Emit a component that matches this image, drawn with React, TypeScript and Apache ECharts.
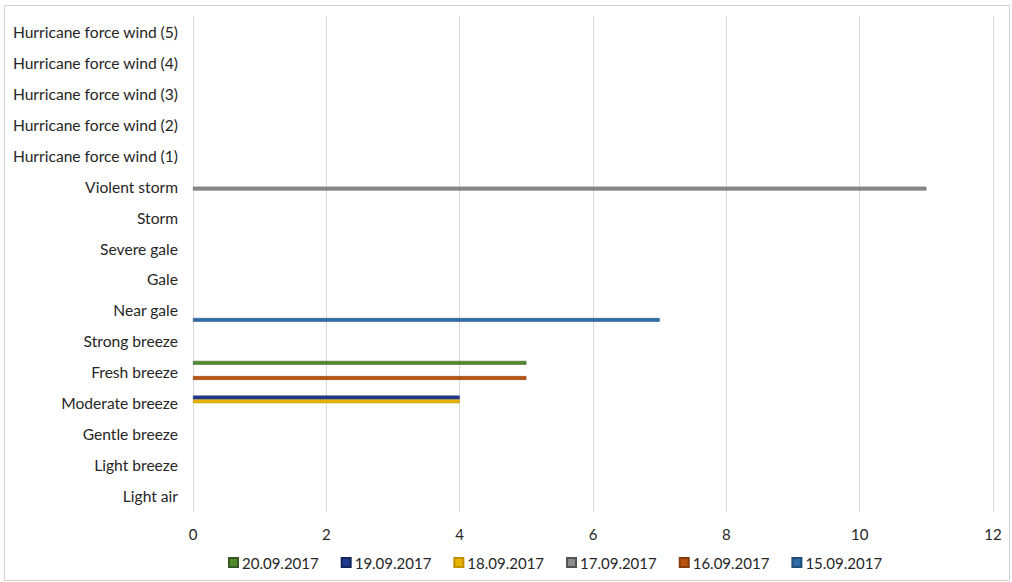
import React, { useEffect, useRef } from "react";
import * as echarts from "echarts";

const categories = [
  "Light air",
  "Light breeze",
  "Gentle breeze",
  "Moderate breeze",
  "Fresh breeze",
  "Strong breeze",
  "Near gale",
  "Gale",
  "Severe gale",
  "Storm",
  "Violent storm",
  "Hurricane force wind (1)",
  "Hurricane force wind (2)",
  "Hurricane force wind (3)",
  "Hurricane force wind (4)",
  "Hurricane force wind (5)",
];

const seriesNames = ["20.09.2017", "19.09.2017", "18.09.2017", "17.09.2017", "16.09.2017", "15.09.2017"];
const seriesColors = ["#4f8a2b", "#1f3a8f", "#e8b400", "#8c8c8c", "#b8540f", "#2e6aa6"];
const seriesBorders = ["#375623", "#14245c", "#bf9000", "#525252", "#843c0c", "#1f4e79"];

const s20 = [null, null, null, null, 5, null, null, null, null, null, null, null, null, null, null, null];
const s19 = [null, null, null, 4, null, null, null, null, null, null, null, null, null, null, null, null];
const s18 = [null, null, null, 4, null, null, null, null, null, null, null, null, null, null, null, null];
const s17 = [null, null, null, null, null, null, null, null, null, null, 11, null, null, null, null, null];
const s16 = [null, null, null, null, 5, null, null, null, null, null, null, null, null, null, null, null];
const s15 = [null, null, null, null, null, null, 7, null, null, null, null, null, null, null, null, null];
const seriesData = [s20, s19, s18, s17, s16, s15];

const xTicks = { min: 0, max: 12, interval: 2 };

const FONT = "Lato";
const FS = 15;
const TXT = "#262626";

export default function App() {
  const ref = useRef<HTMLDivElement>(null);
  useEffect(() => {
    if (!ref.current) return;
    const chart = echarts.init(ref.current, null, { renderer: "svg" });
    chart.setOption({
      animation: false,
      backgroundColor: "#ffffff",
      textStyle: { fontFamily: FONT },
      graphic: [
        {
          type: "rect",
          shape: { x: 4.5, y: 5.5, width: 1005, height: 575 },
          style: { fill: "none", stroke: "#d0d0d0", lineWidth: 1 },
          silent: true,
        },
      ],
      grid: { left: 193, right: 19, top: 16.5, bottom: 70.5, containLabel: false },
      legend: {
        bottom: 7,
        left: 223,
        itemWidth: 9,
        itemHeight: 9,
        itemGap: 22,
        icon: "rect",
        textStyle: { fontFamily: FONT, fontSize: FS, color: TXT, padding: [0, 0, 0, -1] },
        data: seriesNames,
      },
      xAxis: {
        type: "value",
        min: xTicks.min,
        max: xTicks.max,
        interval: xTicks.interval,
        axisLine: { show: false },
        axisTick: { show: false },
        axisLabel: { fontFamily: FONT, fontSize: FS, color: TXT, margin: 15 },
        splitLine: { show: true, lineStyle: { color: "#d9d9d9", width: 1 } },
      },
      yAxis: {
        type: "category",
        data: categories,
        axisLine: { show: true, lineStyle: { color: "#d9d9d9", width: 1 } },
        axisTick: { show: false },
        axisLabel: { fontFamily: FONT, fontSize: 15.6, color: TXT, margin: 15 },
        splitLine: { show: false },
      },
      series: seriesNames.map((name, i) => ({
        name,
        type: "bar",
        data: seriesData[i],
        barWidth: 3.8,
        barGap: "0%",
        itemStyle: { color: seriesColors[i], borderColor: seriesBorders[i], borderWidth: 0.5 },
      })),
    });
    return () => chart.dispose();
  }, []);
  return (
    <div
      ref={ref}
      style={{ position: "absolute", left: 0, top: 0, width: 1012, height: 582 }}
    />
  );
}
